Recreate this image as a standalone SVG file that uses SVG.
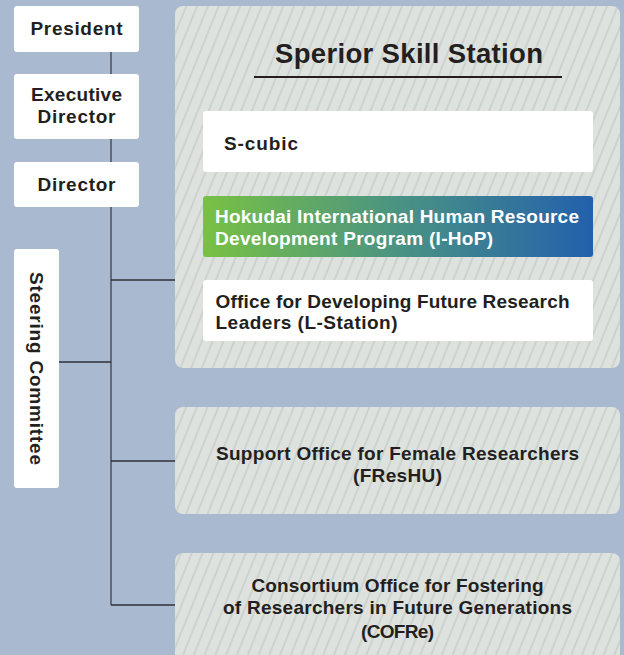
<svg xmlns="http://www.w3.org/2000/svg" width="624" height="655" viewBox="0 0 624 655">
<style>
.t{font-family:"Liberation Sans",Arial,sans-serif;font-weight:bold;font-size:19px;fill:#231f20}
.w{fill:#ffffff}
.box{fill:#ffffff}
.hatch{fill:url(#hatch)}
.conn{stroke:#2e3138;stroke-width:1.3;fill:none}
.vline{stroke:#5b616b;stroke-width:1.8;fill:none}
</style>
<defs>
<pattern id="hatch" patternUnits="userSpaceOnUse" width="10" height="10" patternTransform="rotate(22)">
<rect width="10" height="10" fill="#dde2de"/>
<line x1="5" y1="-1" x2="5" y2="11" stroke="#bcc2bf" stroke-width="1"/>
</pattern>
<linearGradient id="grad" x1="0" y1="0" x2="1" y2="0">
<stop offset="0" stop-color="#79c143"/>
<stop offset="0.5" stop-color="#4a9383"/>
<stop offset="1" stop-color="#2360ad"/>
</linearGradient>
</defs>
<rect width="624" height="655" fill="#a9b9cf"/>
<g id="connectors">
<path class="vline" d="M111 52 V605"/>
<path class="conn" d="M59 362 H111"/>
<path class="conn" d="M111 280 H175"/>
<path class="conn" d="M111 461 H175"/>
<path class="conn" d="M111 605 H175"/>
</g>
<g id="president">
<rect class="box" x="14" y="6" width="125" height="46" rx="3"/>
<text class="t" x="76.5" y="35" text-anchor="middle" textLength="92" lengthAdjust="spacing">President</text>
</g>
<g id="executive-director">
<rect class="box" x="14" y="74" width="125" height="65" rx="3"/>
<text class="t" x="76.5" y="100.5" text-anchor="middle" textLength="91" lengthAdjust="spacing">Executive</text>
<text class="t" x="76.5" y="122.5" text-anchor="middle" textLength="78" lengthAdjust="spacing">Director</text>
</g>
<g id="director">
<rect class="box" x="14" y="162" width="125" height="45" rx="3"/>
<text class="t" x="76.5" y="190.5" text-anchor="middle" textLength="78" lengthAdjust="spacing">Director</text>
</g>
<g id="steering-committee">
<rect class="box" x="14" y="249" width="45" height="239" rx="3"/>
<text class="t" transform="translate(30,368.5) rotate(90)" x="0" y="0" text-anchor="middle" textLength="193" lengthAdjust="spacing">Steering Committee</text>
</g>
<g id="superior-skill-station">
<rect class="hatch" x="175" y="6" width="445" height="362" rx="8"/>
<text class="t" x="409" y="62.5" text-anchor="middle" style="font-size:27.5px" textLength="268" lengthAdjust="spacing">Sperior Skill Station</text>
<line x1="254" y1="77" x2="562" y2="77" stroke="#231f20" stroke-width="2"/>
</g>
<g id="s-cubic">
<rect class="box" x="203" y="111" width="390" height="61" rx="3"/>
<text class="t" x="224" y="150" textLength="74" lengthAdjust="spacing">S-cubic</text>
</g>
<g id="i-hop">
<rect x="203" y="196" width="390" height="61" rx="3" fill="url(#grad)"/>
<text class="t w" x="215" y="223" textLength="364" lengthAdjust="spacing">Hokudai International Human Resource</text>
<text class="t w" x="215" y="245" textLength="278" lengthAdjust="spacing">Development Program (I-HoP)</text>
</g>
<g id="l-station">
<rect class="box" x="203" y="280" width="390" height="61" rx="3"/>
<text class="t" x="215.5" y="307.5" textLength="354" lengthAdjust="spacing">Office for Developing Future Research</text>
<text class="t" x="215.5" y="329" textLength="182" lengthAdjust="spacing">Leaders (L-Station)</text>
</g>
<g id="freshu">
<rect class="hatch" x="175" y="407" width="445" height="107" rx="8"/>
<text class="t" x="397.5" y="460" text-anchor="middle" textLength="363" lengthAdjust="spacing">Support Office for Female Researchers</text>
<text class="t" x="397.5" y="482" text-anchor="middle" textLength="89" lengthAdjust="spacing">(FResHU)</text>
</g>
<g id="cofre">
<rect class="hatch" x="175" y="553" width="445" height="120" rx="8"/>
<text class="t" x="397.5" y="591.5" text-anchor="middle" textLength="292" lengthAdjust="spacing">Consortium Office for Fostering</text>
<text class="t" x="397.5" y="613.5" text-anchor="middle" textLength="349" lengthAdjust="spacing">of Researchers in Future Generations</text>
<text class="t" x="397.5" y="637.5" text-anchor="middle" textLength="73" lengthAdjust="spacing">(COFRe)</text>
</g>
</svg>
